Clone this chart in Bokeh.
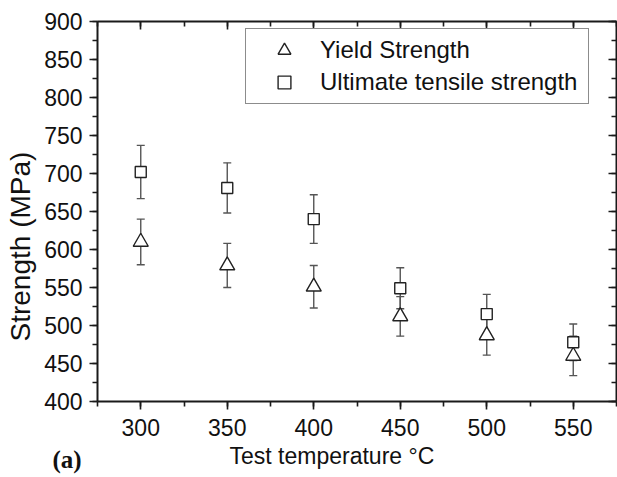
from bokeh.plotting import figure
from bokeh.models import (Range1d, LinearAxis, SingleIntervalTicker, Whisker,
                          ColumnDataSource, Legend, LegendItem, TeeHead, Title)
from bokeh.embed import file_html
from bokeh.resources import INLINE

# ---- data ----
temps = [300, 350, 400, 450, 500, 550]
yield_strength = [610, 579, 551, 512, 487, 460]
yield_err = [30, 29, 28, 26, 26, 26]
uts = [702, 681, 640, 549, 515, 478]
uts_err = [35, 33, 32, 27, 26, 24]

series_labels = ["Yield Strength", "Ultimate tensile strength"]
x_title = "Test temperature °C"
y_title = "Strength (MPa)"
panel_tag = "(a)"

FONT = "Liberation Sans"
AX = "#1a1a1a"
ERR = "#555555"
MK = "#222222"
TXT = "#111111"

ys_src = ColumnDataSource(dict(
    x=temps, y=yield_strength,
    lo=[v - e for v, e in zip(yield_strength, yield_err)],
    hi=[v + e for v, e in zip(yield_strength, yield_err)]))
uts_src = ColumnDataSource(dict(
    x=temps, y=uts,
    lo=[v - e for v, e in zip(uts, uts_err)],
    hi=[v + e for v, e in zip(uts, uts_err)]))

p = figure(width=617, height=477, x_range=Range1d(275, 575), y_range=Range1d(400, 900),
           output_backend="svg", toolbar_location=None,
           min_border_left=97, min_border_right=1, min_border_top=21, min_border_bottom=76)
p.grid.visible = False
p.outline_line_color = None
p.background_fill_color = "white"
p.border_fill_color = "white"

p.xaxis.ticker = SingleIntervalTicker(interval=50, num_minor_ticks=2)
p.yaxis.ticker = SingleIntervalTicker(interval=50, num_minor_ticks=2)


def style_axis(ax, inside, labels, standoff=5):
    ax.axis_line_color = AX
    ax.axis_line_width = 2
    ax.major_tick_line_color = AX
    ax.minor_tick_line_color = AX
    ax.major_tick_line_width = 1.6
    ax.minor_tick_line_width = 1.6
    if inside:
        ax.major_tick_in, ax.major_tick_out = 8, 0
        ax.minor_tick_in, ax.minor_tick_out = 5, 0
    else:
        ax.major_tick_in, ax.major_tick_out = 0, 8
        ax.minor_tick_in, ax.minor_tick_out = 0, 5
    if labels:
        ax.major_label_text_font = FONT
        ax.major_label_text_font_size = "23px"
        ax.major_label_text_color = TXT
        ax.major_label_standoff = standoff
    else:
        ax.major_label_text_font_size = "1px"
        ax.major_label_text_color = None
        ax.major_label_standoff = 0


style_axis(p.xaxis[0], False, True, 9)
style_axis(p.yaxis[0], False, True, 7)

top = LinearAxis(ticker=SingleIntervalTicker(interval=50, num_minor_ticks=2))
right = LinearAxis(ticker=SingleIntervalTicker(interval=50, num_minor_ticks=2))
style_axis(top, True, False)
style_axis(right, True, False)
p.add_layout(top, "above")
p.add_layout(right, "right")

# error bars
for src in (ys_src, uts_src):
    w = Whisker(source=src, base="x", upper="hi", lower="lo",
                line_color=ERR, line_width=1.4,
                upper_head=TeeHead(size=8, line_color=ERR, line_width=1.4),
                lower_head=TeeHead(size=8, line_color=ERR, line_width=1.4))
    p.add_layout(w)

r_ys = p.scatter("x", "y", source=ys_src, marker="triangle", size=15,
                 fill_color="white", line_color=MK, line_width=1.4)
r_uts = p.scatter("x", "y", source=uts_src, marker="square", size=11,
                  fill_color="white", line_color=MK, line_width=1.4)

legend = Legend(items=[LegendItem(label=series_labels[0], renderers=[r_ys]),
                       LegendItem(label=series_labels[1], renderers=[r_uts])],
                location=(148, 297), padding=5, spacing=0,
                glyph_width=66, glyph_height=32, label_height=32, label_standoff=3,
                label_width=263,
                label_text_font=FONT, label_text_font_size="24px",
                label_text_color=TXT,
                border_line_color=AX, border_line_width=1.5,
                background_fill_color="white", background_fill_alpha=1,
                margin=0)
p.add_layout(legend)

# axis titles as side-panel titles (allows off-centre placement)
p.add_layout(Title(text=x_title, align="left", offset=132, standoff=9,
                   vertical_align="top", text_font=FONT, text_font_size="23px",
                   text_font_style="normal", text_color=TXT), "below")
p.add_layout(Title(text=panel_tag, align="left", offset=-45, standoff=-60,
                   vertical_align="top", text_font="Liberation Serif",
                   text_font_size="25px", text_font_style="bold", text_color=TXT), "below")
p.add_layout(Title(text=y_title, align="left", offset=60, standoff=8,
                   vertical_align="top", text_font=FONT, text_font_size="28px",
                   text_font_style="normal", text_color=TXT), "left")

open("out.html", "w").write(file_html(p, INLINE))
